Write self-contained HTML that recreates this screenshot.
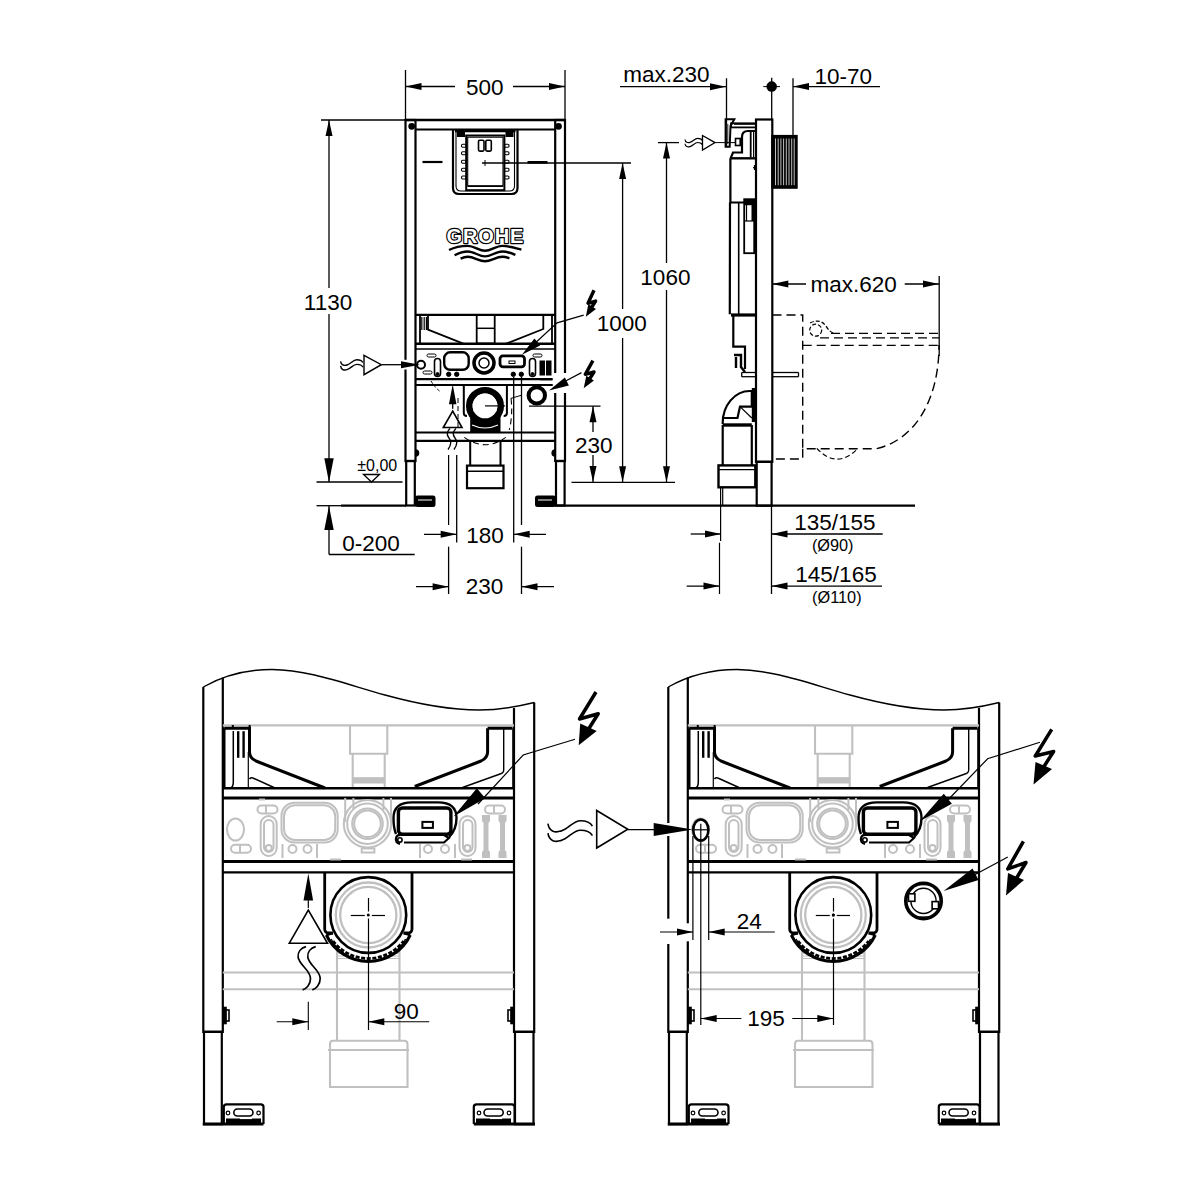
<!DOCTYPE html>
<html><head><meta charset="utf-8"><style>
html,body{margin:0;padding:0;background:#fff;width:1200px;height:1200px;overflow:hidden}
svg{display:block}
text{font-family:"Liberation Sans",sans-serif;fill:#000}
</style></head><body>
<svg width="1200" height="1200" viewBox="0 0 1200 1200">
<rect width="1200" height="1200" fill="#fff"/>
<line x1="405.5" y1="70" x2="405.5" y2="120" stroke="#000" stroke-width="1.3" />
<line x1="565" y1="70" x2="565" y2="120" stroke="#000" stroke-width="1.3" />
<line x1="405.5" y1="86.5" x2="455" y2="86.5" stroke="#000" stroke-width="1.3" />
<line x1="513" y1="86.5" x2="565" y2="86.5" stroke="#000" stroke-width="1.3" />
<polygon points="405.50,86.50 421.50,83.00 421.50,90.00" fill="#000"/>
<polygon points="565.00,86.50 549.00,90.00 549.00,83.00" fill="#000"/>
<text x="484.70" y="95.00" font-size="22.5" text-anchor="middle" >500</text>
<line x1="321" y1="120" x2="405" y2="120" stroke="#000" stroke-width="1.3" />
<line x1="329" y1="120" x2="329" y2="288" stroke="#000" stroke-width="1.3" />
<line x1="329" y1="314" x2="329" y2="482" stroke="#000" stroke-width="1.3" />
<polygon points="329.00,120.00 332.50,136.00 325.50,136.00" fill="#000"/>
<polygon points="329.00,482.30 324.30,458.30 333.70,458.30" fill="#000"/>
<text x="328.00" y="309.70" font-size="22.5" text-anchor="middle" >1130</text>
<line x1="316.5" y1="482" x2="402.5" y2="482" stroke="#000" stroke-width="1.3" />
<path d="M363.5,474.5 L379.5,474.5 L371.5,482 Z" stroke="#000" stroke-width="1.3" fill="none" />
<text x="377.25" y="470.75" font-size="16" text-anchor="middle" >±0,00</text>
<line x1="316.5" y1="505.7" x2="341" y2="505.7" stroke="#000" stroke-width="1.3" />
<line x1="341" y1="505.7" x2="406" y2="505.7" stroke="#000" stroke-width="2.3" />
<line x1="555" y1="505.7" x2="915" y2="505.7" stroke="#000" stroke-width="2.3" />
<line x1="329" y1="505.7" x2="329" y2="554.5" stroke="#000" stroke-width="1.3" />
<line x1="329" y1="554.5" x2="414.7" y2="554.5" stroke="#000" stroke-width="1.3" />
<polygon points="329.00,505.90 333.70,529.90 324.30,529.90" fill="#000"/>
<text x="371.00" y="550.70" font-size="22.5" text-anchor="middle" >0-200</text>
<rect x="405.5" y="120" width="10" height="341" rx="0" stroke="#000" stroke-width="2.2" fill="none" />
<rect x="555.2" y="120" width="9.8" height="341" rx="0" stroke="#000" stroke-width="2.2" fill="none" />
<rect x="406.2" y="461" width="8.6" height="44.5" rx="0" stroke="#000" stroke-width="2.2" fill="none" />
<rect x="556" y="461" width="8.6" height="44.5" rx="0" stroke="#000" stroke-width="2.2" fill="none" />
<rect x="416" y="496.5" width="18.5" height="9.5" rx="1.5" stroke="#000" stroke-width="2" fill="#000" />
<rect x="536" y="496.5" width="19" height="9.5" rx="1.5" stroke="#000" stroke-width="2" fill="#000" />
<line x1="418" y1="500" x2="432" y2="500" stroke="#fff" stroke-width="1" />
<line x1="538" y1="500" x2="552" y2="500" stroke="#fff" stroke-width="1" />
<path d="M415.5,450 q3,0 3,3 q0,3 -3,3" stroke="#000" stroke-width="1.6" fill="#000" />
<path d="M555.2,450 q-3,0 -3,3 q0,3 3,3" stroke="#000" stroke-width="1.6" fill="#000" />
<line x1="405.5" y1="120" x2="565" y2="120" stroke="#000" stroke-width="2.6" />
<line x1="415.5" y1="129.5" x2="555.2" y2="129.5" stroke="#000" stroke-width="2.2" />
<circle cx="411.7" cy="126.3" r="2.6" stroke="#000" stroke-width="1.6" fill="#000" />
<circle cx="558.5" cy="126.3" r="2.6" stroke="#000" stroke-width="1.6" fill="#000" />
<line x1="415.5" y1="314.8" x2="555.2" y2="314.8" stroke="#000" stroke-width="2.2" />
<path d="M453,129.5 L453,188 Q453,194 459,194 L511.5,194 Q517.5,194 517.5,188 L517.5,129.5" stroke="#000" stroke-width="2.2" fill="none" />
<path d="M456,131 L456,186 Q456,191 461,191 L509.5,191 Q514.5,191 514.5,186 L514.5,131" stroke="#000" stroke-width="1.1" fill="none" />
<rect x="466.2" y="135.5" width="38.2" height="54.7" rx="0" stroke="#000" stroke-width="2" fill="none" />
<rect x="467.7" y="137.2" width="35.3" height="48.5" rx="0" stroke="#000" stroke-width="1.1" fill="none" />
<line x1="455" y1="131" x2="515.5" y2="131" stroke="#000" stroke-width="2.4" />
<rect x="457" y="132" width="8" height="5" rx="0" stroke="#000" stroke-width="0" fill="#000" />
<rect x="505.5" y="132" width="8" height="5" rx="0" stroke="#000" stroke-width="0" fill="#000" />
<line x1="467.5" y1="186.5" x2="503" y2="186.5" stroke="#000" stroke-width="1.1" />
<rect x="461.5" y="144.3" width="4.5" height="3" rx="1.2" stroke="#000" stroke-width="1.1" fill="none" />
<rect x="504.5" y="144.3" width="4.5" height="3" rx="1.2" stroke="#000" stroke-width="1.1" fill="none" />
<rect x="461.5" y="151.8" width="4.5" height="3" rx="1.2" stroke="#000" stroke-width="1.1" fill="none" />
<rect x="504.5" y="151.8" width="4.5" height="3" rx="1.2" stroke="#000" stroke-width="1.1" fill="none" />
<rect x="461.5" y="160.2" width="4.5" height="3" rx="1.2" stroke="#000" stroke-width="1.1" fill="none" />
<rect x="504.5" y="160.2" width="4.5" height="3" rx="1.2" stroke="#000" stroke-width="1.1" fill="none" />
<rect x="461.5" y="168.2" width="4.5" height="3" rx="1.2" stroke="#000" stroke-width="1.1" fill="none" />
<rect x="504.5" y="168.2" width="4.5" height="3" rx="1.2" stroke="#000" stroke-width="1.1" fill="none" />
<rect x="461.5" y="176.0" width="4.5" height="3" rx="1.2" stroke="#000" stroke-width="1.1" fill="none" />
<rect x="504.5" y="176.0" width="4.5" height="3" rx="1.2" stroke="#000" stroke-width="1.1" fill="none" />
<rect x="478.5" y="140.3" width="5.5" height="10.8" rx="1.3" stroke="#000" stroke-width="1.6" fill="none" />
<rect x="485.8" y="140.3" width="5.5" height="10.8" rx="1.3" stroke="#000" stroke-width="1.6" fill="none" />
<line x1="422.5" y1="162" x2="442.5" y2="162" stroke="#000" stroke-width="2.2" />
<line x1="527.5" y1="162.3" x2="547.5" y2="162.3" stroke="#000" stroke-width="2.6" />
<line x1="485" y1="160" x2="485" y2="166" stroke="#000" stroke-width="1" />
<line x1="482" y1="163" x2="631" y2="163" stroke="#000" stroke-width="1.3" />
<text x="446.5" y="243.2" font-size="20" style="font-weight:bold;fill:#000;stroke:#000;stroke-width:2.4px;letter-spacing:0.9px;stroke-linejoin:round">GROHE</text>
<text x="446.5" y="243.2" font-size="20" style="font-weight:bold;fill:#fff;letter-spacing:0.9px">GROHE</text>
<path d="M449,250 C455,247 461,245.9 467.8,245.9 C474,245.9 479,250.8 485,250.8 C491,250.8 496,245.9 502.3,245.9 C509,245.9 515,248 521.4,249.6" stroke="#000" stroke-width="2.4" fill="none" />
<path d="M454.6,255.3 C459,253 463,251.5 467.8,251.5 C474,251.5 479,256.4 485,256.4 C491,256.4 496,251.5 502.3,251.5 C507,251.5 511,253 515.4,254.9" stroke="#000" stroke-width="2.4" fill="none" />
<path d="M460.6,258.6 C463,257.5 465,256.8 467.8,256.8 C474,256.8 479,261.3 485,261.3 C491,261.3 496,256.8 502.3,256.8 C505,256.8 507,257.5 509.4,258.3" stroke="#000" stroke-width="2.4" fill="none" />
<path d="M420,315 L420,343.7 M428,315 L428,329.7 L463.3,343.7" stroke="#000" stroke-width="1.8" fill="none" />
<line x1="421.8" y1="317" x2="421.8" y2="330" stroke="#000" stroke-width="1.2" />
<line x1="424.2" y1="317" x2="424.2" y2="330" stroke="#000" stroke-width="1.2" />
<line x1="426.4" y1="317" x2="426.4" y2="330" stroke="#000" stroke-width="1.2" />
<path d="M552,315 L552,343.7 M543.3,315 L543.3,329 L506,343.7" stroke="#000" stroke-width="1.8" fill="none" />
<rect x="476.7" y="315" width="18" height="28.5" rx="0" stroke="#000" stroke-width="1.8" fill="none" />
<line x1="476.7" y1="328.3" x2="494.7" y2="328.3" stroke="#000" stroke-width="1.5" />
<line x1="415.5" y1="343.7" x2="555.2" y2="343.7" stroke="#000" stroke-width="2.4" />
<line x1="415.5" y1="349" x2="555.2" y2="349" stroke="#000" stroke-width="1.6" />
<line x1="415.5" y1="379.2" x2="555.2" y2="379.2" stroke="#000" stroke-width="2.2" />
<line x1="415.5" y1="385" x2="555.2" y2="385" stroke="#000" stroke-width="2.0" />
<circle cx="484" cy="363" r="10" stroke="#000" stroke-width="3.5" fill="none" />
<circle cx="484" cy="363" r="5" stroke="#000" stroke-width="1.5" fill="none" />
<rect x="444.2" y="352.3" width="24.5" height="17.5" rx="6" stroke="#000" stroke-width="2.4" fill="none" />
<rect x="434.5" y="358.5" width="6" height="18" rx="3" stroke="#000" stroke-width="1.6" fill="none" />
<circle cx="437.5" cy="374" r="1.5" stroke="#000" stroke-width="1" fill="#000" />
<rect x="529.5" y="358.5" width="6" height="18" rx="3" stroke="#000" stroke-width="1.6" fill="none" />
<circle cx="532.5" cy="374" r="1.5" stroke="#000" stroke-width="1" fill="#000" />
<rect x="500" y="355.8" width="24.5" height="11" rx="3" stroke="#000" stroke-width="2.8" fill="none" />
<rect x="509" y="361" width="6" height="2.5" rx="0" stroke="#000" stroke-width="1" fill="none" />
<circle cx="448.7" cy="374.3" r="2.2" stroke="#000" stroke-width="1" fill="#000" />
<circle cx="456.7" cy="374.3" r="2.2" stroke="#000" stroke-width="1" fill="#000" />
<circle cx="513.3" cy="374.3" r="2.2" stroke="#000" stroke-width="1" fill="#000" />
<circle cx="521.3" cy="374.3" r="2.2" stroke="#000" stroke-width="1" fill="#000" />
<rect x="540" y="361" width="4.5" height="14" rx="0" stroke="#000" stroke-width="1" fill="#000" />
<rect x="546.5" y="361" width="4.5" height="14" rx="0" stroke="#000" stroke-width="1" fill="#000" />
<rect x="427" y="354" width="9" height="3" rx="1.5" stroke="#000" stroke-width="1" fill="none" />
<rect x="533" y="354" width="9" height="3" rx="1.5" stroke="#000" stroke-width="1" fill="none" />
<rect x="423" y="371" width="9" height="3" rx="1.5" stroke="#000" stroke-width="1" fill="none" />
<path d="M340.6,361.3 C341.0,365.0 344.0,366.0 347.0,365.0 C351.0,364.0 353.0,359.8 356.8,359.8 C359.8,359.8 362.0,361.0 362.8,362.5 M340.6,365.9 C341.0,369.6 344.0,370.6 347.0,369.6 C351.0,368.6 353.0,364.4 356.8,364.4 C359.8,364.4 362.0,365.6 362.8,367.1" stroke="#000" stroke-width="1.4" fill="none" />
<rect x="403" y="359.8" width="5" height="9.7" fill="#fff"/>
<path d="M364,355.3 L381.3,364.7 L364,374.7 Z" stroke="#000" stroke-width="1.4" fill="none" />
<line x1="381.3" y1="364.7" x2="404" y2="364.7" stroke="#000" stroke-width="1.3" />
<polygon points="420.00,364.70 401.00,368.20 401.00,361.20" fill="#000"/>
<circle cx="421" cy="364.7" r="4" stroke="#000" stroke-width="2" fill="none" />
<line x1="452.7" y1="395" x2="452.7" y2="408.8" stroke="#000" stroke-width="1.3" />
<polygon points="452.70,384.30 456.45,404.30 448.95,404.30" fill="#000"/>
<path d="M443.3,427.5 L452.7,411.2 L462,427.5 Z" stroke="#000" stroke-width="1.6" fill="none" />
<path d="M450,428.5 Q445,433 449,438 Q453,443 448,449.5 M456,428.5 Q451,433 455,438 Q459,443 454,449.5" stroke="#000" stroke-width="1.3" fill="none" />
<path d="M463.8,386 L463.8,413 Q463.8,416 467,416 M506.9,386 L506.9,413 Q506.9,416 503.7,416" stroke="#000" stroke-width="2" fill="none" />
<rect x="470.2" y="412" width="30.3" height="20" rx="0" stroke="#000" stroke-width="0" fill="#000" />
<circle cx="485" cy="405.9" r="15.7" stroke="#000" stroke-width="6.6" fill="none" />
<circle cx="485" cy="405.9" r="12.4" fill="#fff"/>
<path d="M472,425 Q485,431 498,425" stroke="#fff" stroke-width="1.2" fill="none" />
<line x1="485" y1="405.9" x2="505" y2="405.9" stroke="#000" stroke-width="1.2" />
<line x1="415.5" y1="432.5" x2="555.2" y2="432.5" stroke="#000" stroke-width="2.2" />
<line x1="415.5" y1="440.8" x2="555.2" y2="440.8" stroke="#000" stroke-width="2.2" />
<path d="M470.2,440.8 L470.2,465.6 M500.5,440.8 L500.5,465.6" stroke="#000" stroke-width="2" fill="none" />
<rect x="467" y="465.6" width="36.5" height="22.6" rx="0" stroke="#000" stroke-width="2.2" fill="none" />
<line x1="467" y1="471.3" x2="503.5" y2="471.3" stroke="#000" stroke-width="1.4" />
<path d="M431,381 Q436,389 441,392" stroke="#000" stroke-width="1" fill="none" stroke-dasharray="3,2"/>
<path d="M458,398 L458,428" stroke="#000" stroke-width="1" fill="none" stroke-dasharray="5,3"/>
<path d="M464.3,437.4 Q485,452 505.8,437.4" stroke="#000" stroke-width="1.1" fill="none" stroke-dasharray="6,4"/>
<path d="M511,398.3 Q513,415 509.3,429.8" stroke="#000" stroke-width="1.1" fill="none" stroke-dasharray="6,4"/>
<path d="M511,398.3 L521,395.4" stroke="#000" stroke-width="1" fill="none" />
<circle cx="536.8" cy="395.4" r="8.2" stroke="#000" stroke-width="4" fill="none" />
<path d="M594,290.3 L588,303.3 L595.6,301.1 L590.7,308.95000000000005" stroke="#000" stroke-width="3.4" fill="none" stroke-linejoin="round"/>
<polygon points="585.80,316.80 588.34,304.24 595.97,309.00" fill="#000"/>
<path d="M583.7,315.2 L557.1,322.8 L532,346" stroke="#000" stroke-width="1.2" fill="none" />
<polygon points="521.90,354.80 534.43,338.58 540.17,345.51" fill="#000"/>
<rect x="552.5" y="373" width="14.5" height="20" fill="#fff"/>
<line x1="540" y1="379.2" x2="552.5" y2="379.2" stroke="#000" stroke-width="2.2" />
<line x1="540" y1="385" x2="552.5" y2="385" stroke="#000" stroke-width="2.0" />
<path d="M592.9,360.7 L585.3,374.3 L594,372 L588.85,380.15" stroke="#000" stroke-width="3.4" fill="none" stroke-linejoin="round"/>
<polygon points="583.70,388.30 586.31,375.75 593.91,380.56" fill="#000"/>
<line x1="581.5" y1="372.6" x2="560" y2="384" stroke="#000" stroke-width="1.2" />
<polygon points="549.00,390.50 564.88,377.53 568.90,385.58" fill="#000"/>
<line x1="529" y1="406.2" x2="600.5" y2="406.2" stroke="#000" stroke-width="1.3" />
<line x1="593" y1="406.2" x2="593" y2="432" stroke="#000" stroke-width="1.3" />
<line x1="593" y1="455" x2="593" y2="482" stroke="#000" stroke-width="1.3" />
<polygon points="593.00,406.20 596.50,422.20 589.50,422.20" fill="#000"/>
<polygon points="593.00,482.00 589.50,466.00 596.50,466.00" fill="#000"/>
<text x="593.75" y="452.50" font-size="22.5" text-anchor="middle" >230</text>
<line x1="571.5" y1="482.3" x2="675" y2="482.3" stroke="#000" stroke-width="1.3" />
<line x1="622.6" y1="163" x2="622.6" y2="309" stroke="#000" stroke-width="1.3" />
<line x1="622.6" y1="338" x2="622.6" y2="482.3" stroke="#000" stroke-width="1.3" />
<polygon points="622.60,163.00 626.10,179.00 619.10,179.00" fill="#000"/>
<polygon points="622.60,482.30 619.10,466.30 626.10,466.30" fill="#000"/>
<text x="621.70" y="331.00" font-size="22.5" text-anchor="middle" >1000</text>
<line x1="448.6" y1="455" x2="448.6" y2="525" stroke="#000" stroke-width="1.2" />
<line x1="448.6" y1="546.7" x2="448.6" y2="594" stroke="#000" stroke-width="1.3" />
<line x1="456.7" y1="455" x2="456.7" y2="542.5" stroke="#000" stroke-width="1.3" />
<line x1="513.7" y1="377" x2="513.7" y2="542.5" stroke="#000" stroke-width="1.3" />
<line x1="521.5" y1="377" x2="521.5" y2="525" stroke="#000" stroke-width="1.3" />
<line x1="521.5" y1="546.7" x2="521.5" y2="594" stroke="#000" stroke-width="1.3" />
<line x1="424" y1="534.3" x2="456.7" y2="534.3" stroke="#000" stroke-width="1.3" />
<polygon points="456.70,534.30 440.70,537.80 440.70,530.80" fill="#000"/>
<line x1="513.7" y1="534.3" x2="546" y2="534.3" stroke="#000" stroke-width="1.3" />
<polygon points="513.70,534.30 529.70,530.80 529.70,537.80" fill="#000"/>
<text x="485.00" y="542.50" font-size="22.5" text-anchor="middle" >180</text>
<line x1="416" y1="586.7" x2="448.6" y2="586.7" stroke="#000" stroke-width="1.3" />
<polygon points="448.60,586.70 432.60,590.20 432.60,583.20" fill="#000"/>
<line x1="521.5" y1="586.7" x2="554" y2="586.7" stroke="#000" stroke-width="1.3" />
<polygon points="521.50,586.70 537.50,583.20 537.50,590.20" fill="#000"/>
<text x="484.60" y="594.00" font-size="22.5" text-anchor="middle" >230</text>
<text x="666.35" y="82.30" font-size="22.5" text-anchor="middle" >max.230</text>
<line x1="620" y1="86.7" x2="726" y2="86.7" stroke="#000" stroke-width="1.3" />
<polygon points="726.00,86.70 710.00,90.20 710.00,83.20" fill="#000"/>
<line x1="726.5" y1="78.3" x2="726.5" y2="146" stroke="#000" stroke-width="1.3" />
<circle cx="771.7" cy="86.6" r="5" stroke="#000" stroke-width="0.5" fill="#000" />
<line x1="763.3" y1="86.6" x2="780" y2="86.6" stroke="#000" stroke-width="1" />
<line x1="771.7" y1="77.7" x2="771.7" y2="120" stroke="#000" stroke-width="1.3" />
<line x1="793" y1="78.3" x2="793" y2="136" stroke="#000" stroke-width="1.3" />
<line x1="793" y1="86.6" x2="880" y2="86.6" stroke="#000" stroke-width="1.3" />
<polygon points="793.00,86.60 809.00,83.10 809.00,90.10" fill="#000"/>
<text x="843.35" y="83.70" font-size="22.5" text-anchor="middle" >10-70</text>
<rect x="756" y="119.5" width="16.3" height="342.3" rx="0" stroke="#000" stroke-width="2.2" fill="none" />
<rect x="756.7" y="461.8" width="14.9" height="43.9" rx="0" stroke="#000" stroke-width="2.2" fill="none" />
<line x1="771.5" y1="505" x2="771.5" y2="594" stroke="#000" stroke-width="1.3" />
<rect x="772.3" y="136" width="24.3" height="51.7" rx="0" stroke="#000" stroke-width="2.2" fill="#000" />
<line x1="775.5" y1="138.5" x2="775.5" y2="185.2" stroke="#fff" stroke-width="0.75" />
<line x1="778.2" y1="138.5" x2="778.2" y2="185.2" stroke="#fff" stroke-width="0.75" />
<line x1="780.9" y1="138.5" x2="780.9" y2="185.2" stroke="#fff" stroke-width="0.75" />
<line x1="783.6" y1="138.5" x2="783.6" y2="185.2" stroke="#fff" stroke-width="0.75" />
<line x1="786.3" y1="138.5" x2="786.3" y2="185.2" stroke="#fff" stroke-width="0.75" />
<line x1="789" y1="138.5" x2="789" y2="185.2" stroke="#fff" stroke-width="0.75" />
<line x1="791.7" y1="138.5" x2="791.7" y2="185.2" stroke="#fff" stroke-width="0.75" />
<line x1="794.2" y1="138.5" x2="794.2" y2="185.2" stroke="#fff" stroke-width="0.75" />
<path d="M725.6,119.3 L734.3,119.3 L730.5,126 L729.7,146.7 L725.6,146.7 Z" stroke="#000" stroke-width="2" fill="none" />
<line x1="727.6" y1="124" x2="727.6" y2="144" stroke="#555" stroke-width="1.6" />
<rect x="731" y="123.3" width="25" height="4.1" rx="0" stroke="#000" stroke-width="1.8" fill="none" />
<line x1="734" y1="124.2" x2="755" y2="124.2" stroke="#000" stroke-width="1.2" />
<path d="M730.6,158.3 L733,152.5 L742,152.5 L742,137 Q742,131 748,131 L756,131" stroke="#000" stroke-width="2.2" fill="none" />
<line x1="750.7" y1="131.5" x2="750.7" y2="157" stroke="#000" stroke-width="1.8" />
<line x1="753.6" y1="131.5" x2="753.6" y2="157" stroke="#000" stroke-width="1.2" />
<rect x="735.5" y="138.5" width="4.7" height="7" rx="0" stroke="#000" stroke-width="1.6" fill="none" />
<line x1="726" y1="142.6" x2="735.5" y2="142.6" stroke="#000" stroke-width="1" />
<line x1="730.3" y1="158.3" x2="756" y2="158.3" stroke="#000" stroke-width="2.4" />
<line x1="753" y1="167.7" x2="756" y2="167.7" stroke="#000" stroke-width="1.2" />
<line x1="754.5" y1="165" x2="754.5" y2="170" stroke="#000" stroke-width="1.2" />
<path d="M685.0,139.5 C685.3,142.4 687.7,143.2 690.0,142.4 C693.1,141.6 694.7,138.3 697.6,138.3 C700.0,138.3 701.7,139.3 702.3,140.4 M685.0,143.7 C685.3,146.6 687.7,147.4 690.0,146.6 C693.1,145.8 694.7,142.5 697.6,142.5 C700.0,142.5 701.7,143.5 702.3,144.6" stroke="#000" stroke-width="1.2" fill="none" />
<path d="M702.5,135.5 L715,142.6 L702.5,150 Z" stroke="#000" stroke-width="1.3" fill="none" />
<line x1="715" y1="142.6" x2="726" y2="142.6" stroke="#000" stroke-width="1" />
<line x1="658" y1="142.6" x2="679" y2="142.6" stroke="#000" stroke-width="1.3" />
<line x1="666.5" y1="142.6" x2="666.5" y2="263" stroke="#000" stroke-width="1.3" />
<line x1="666.5" y1="290" x2="666.5" y2="482.3" stroke="#000" stroke-width="1.3" />
<polygon points="666.50,142.60 670.00,158.60 663.00,158.60" fill="#000"/>
<polygon points="666.50,482.30 663.00,466.30 670.00,466.30" fill="#000"/>
<text x="665.40" y="285.00" font-size="22.5" text-anchor="middle" >1060</text>
<path d="M730.4,158.3 L730.4,202.5 M730,202.5 L729.8,314.2" stroke="#000" stroke-width="2.2" fill="none" />
<line x1="730" y1="202.5" x2="745" y2="202.5" stroke="#000" stroke-width="2" />
<line x1="738.7" y1="202.5" x2="738.7" y2="314.2" stroke="#000" stroke-width="1.6" />
<rect x="744.2" y="199.2" width="10" height="54" rx="0" stroke="#000" stroke-width="1.8" fill="none" />
<rect x="744.2" y="199.2" width="10" height="6" rx="0" stroke="#000" stroke-width="0" fill="#000" />
<rect x="751.5" y="205" width="2.7" height="16" rx="0" stroke="#000" stroke-width="0" fill="#000" />
<line x1="746.5" y1="205" x2="746.5" y2="221" stroke="#000" stroke-width="1.2" />
<line x1="744.2" y1="221" x2="754.2" y2="221" stroke="#000" stroke-width="1.2" />
<line x1="731" y1="315" x2="756" y2="315" stroke="#000" stroke-width="3.2" />
<path d="M733.3,315 L733.3,346.7 L745,346.7 L745,369" stroke="#000" stroke-width="2.2" fill="none" />
<path d="M734,355 L741,355 L741,367 L745,372 M736,357 L736,368" stroke="#000" stroke-width="2.4" fill="none" />
<line x1="741.7" y1="372.5" x2="756" y2="372.5" stroke="#000" stroke-width="1.3" />
<line x1="741.7" y1="376.7" x2="756" y2="376.7" stroke="#000" stroke-width="1.3" />
<line x1="741.7" y1="372.5" x2="741.7" y2="376.7" stroke="#000" stroke-width="1.3" />
<line x1="772" y1="372.5" x2="798.5" y2="372.5" stroke="#000" stroke-width="1.3" />
<line x1="772" y1="376.7" x2="798.5" y2="376.7" stroke="#000" stroke-width="1.3" />
<line x1="798.5" y1="372.5" x2="798.5" y2="376.7" stroke="#000" stroke-width="1.3" />
<path d="M722.7,424 L722.7,423 A27,32 0 0 1 749.7,391 L751.8,391 L751.8,406.6 L740,406.6 L737.5,418 L722.7,418" stroke="#000" stroke-width="2.2" fill="none" />
<line x1="740" y1="406.6" x2="751.8" y2="418" stroke="#000" stroke-width="1.2" />
<rect x="751.8" y="388" width="3.5" height="34" rx="0" stroke="#000" stroke-width="0" fill="#000" />
<line x1="722.7" y1="425" x2="751.8" y2="425" stroke="#000" stroke-width="3.4" />
<line x1="722.7" y1="425" x2="722.7" y2="465.4" stroke="#000" stroke-width="2.2" />
<line x1="751.8" y1="425" x2="751.8" y2="465.4" stroke="#000" stroke-width="2.2" />
<rect x="718.5" y="465.4" width="36.8" height="21.9" rx="0" stroke="#000" stroke-width="2.4" fill="none" />
<line x1="718.5" y1="469.6" x2="755.3" y2="469.6" stroke="#000" stroke-width="1.4" />
<line x1="720.6" y1="487.3" x2="720.6" y2="541" stroke="#000" stroke-width="1.2" />
<line x1="722.7" y1="487.3" x2="722.7" y2="505" stroke="#000" stroke-width="1.2" />
<line x1="719.5" y1="542.7" x2="719.5" y2="594" stroke="#000" stroke-width="1.2" />
<line x1="690.7" y1="534" x2="721" y2="534" stroke="#000" stroke-width="1.3" />
<polygon points="721.00,534.00 705.00,537.50 705.00,530.50" fill="#000"/>
<line x1="771.5" y1="534" x2="882.7" y2="534" stroke="#000" stroke-width="1.3" />
<polygon points="771.50,534.00 787.50,530.50 787.50,537.50" fill="#000"/>
<text x="834.80" y="530.40" font-size="22.5" text-anchor="middle" >135/155</text>
<text x="832.70" y="550.80" font-size="16.3" text-anchor="middle" >(Ø90)</text>
<line x1="686.7" y1="586.1" x2="719.5" y2="586.1" stroke="#000" stroke-width="1.3" />
<polygon points="719.50,586.10 703.50,589.60 703.50,582.60" fill="#000"/>
<line x1="771.5" y1="586.1" x2="882" y2="586.1" stroke="#000" stroke-width="1.3" />
<polygon points="771.50,586.10 787.50,582.60 787.50,589.60" fill="#000"/>
<text x="836.00" y="582.10" font-size="22.5" text-anchor="middle" >145/165</text>
<text x="836.85" y="603.00" font-size="16.3" text-anchor="middle" >(Ø110)</text>
<line x1="772.3" y1="284" x2="806" y2="284" stroke="#000" stroke-width="1.3" />
<polygon points="772.30,284.00 788.30,280.50 788.30,287.50" fill="#000"/>
<line x1="904.7" y1="284" x2="939" y2="284" stroke="#000" stroke-width="1.3" />
<polygon points="939.00,284.00 923.00,287.50 923.00,280.50" fill="#000"/>
<line x1="939.2" y1="276" x2="939.2" y2="356" stroke="#000" stroke-width="1.3" />
<text x="853.60" y="292.30" font-size="22.5" text-anchor="middle" >max.620</text>
<path d="M772.5,315 L802.7,315 L802.7,448.8 L876,448.8 C915,440 939,400 939,345 M802.7,448.8 L802.7,459 L772.5,459" stroke="#000" stroke-width="1.4" fill="none" stroke-dasharray="9,5"/>
<path d="M831,333.4 L939,333.4 M820,337.8 L939,337.8 M802.7,345.3 L939,345.3" stroke="#000" stroke-width="1.3" fill="none" stroke-dasharray="9,5"/>
<path d="M816.8,448.3 Q837,470 858,448.3" stroke="#000" stroke-width="1.2" fill="none" stroke-dasharray="5,3"/>
<circle cx="815.7" cy="330.2" r="6" stroke="#000" stroke-width="1.2" fill="none" stroke-dasharray="4,2"/>
<path d="M810,323 Q820,318 826,326 Q830,333 835,333.4" stroke="#000" stroke-width="1.2" fill="none" stroke-dasharray="4,2"/>
<g id="det">
<path d="M203.3,687 C228,673 250,669.5 272,669.5 C310,670 345,684 385,695 C425,706 455,710 479,710 C500,710 520,706 534.3,702.5" stroke="#000" stroke-width="1.4" fill="none" />
<path d="M203.3,687 L203.3,1031.8 L222.8,1031.8 L222.8,677.5" stroke="#000" stroke-width="2.2" fill="none" />
<path d="M534.2,702.5 L534.2,1031.8 L514,1031.8 L514,708" stroke="#000" stroke-width="2.2" fill="none" />
<rect x="204" y="1031.8" width="17.8" height="92.4" rx="0" stroke="#000" stroke-width="2.2" fill="none" />
<rect x="515" y="1031.8" width="18.5" height="92.4" rx="0" stroke="#000" stroke-width="2.2" fill="none" />
<rect x="223" y="1007.5" width="3" height="16" rx="0" stroke="#000" stroke-width="1.6" fill="#000" />
<rect x="225.5" y="1010" width="3.5" height="11" rx="0" stroke="#000" stroke-width="1.6" fill="none" />
<rect x="511" y="1007.5" width="3" height="16" rx="0" stroke="#000" stroke-width="1.6" fill="#000" />
<rect x="508" y="1010" width="3.5" height="11" rx="0" stroke="#000" stroke-width="1.6" fill="none" />
<path d="M223.8,1124 L223.8,1107 Q223.8,1104.4 226.5,1104.4 L260.8,1104.4 Q263.5,1104.4 263.5,1107 L263.5,1124" stroke="#000" stroke-width="2.2" fill="none" />
<rect x="233.8" y="1109" width="19.2" height="7" rx="3.5" stroke="#000" stroke-width="1.6" fill="none" />
<circle cx="228" cy="1113" r="1.8" stroke="#000" stroke-width="1.2" fill="none" />
<circle cx="258.6" cy="1113" r="1.8" stroke="#000" stroke-width="1.2" fill="none" />
<line x1="202.8" y1="1124" x2="263.5" y2="1124" stroke="#000" stroke-width="2.8" />
<rect x="226" y="1118.5" width="35" height="4.5" rx="0" stroke="#000" stroke-width="0" fill="#000" />
<line x1="240" y1="1118.5" x2="252" y2="1118.5" stroke="#fff" stroke-width="1.2" />
<path d="M473.8,1124 L473.8,1107 Q473.8,1104.4 476.5,1104.4 L511.9,1104.4 Q514.6,1104.4 514.6,1107 L514.6,1124" stroke="#000" stroke-width="2.2" fill="none" />
<rect x="484" y="1109" width="19.2" height="7" rx="3.5" stroke="#000" stroke-width="1.6" fill="none" />
<circle cx="479" cy="1113" r="1.8" stroke="#000" stroke-width="1.2" fill="none" />
<circle cx="509" cy="1113" r="1.8" stroke="#000" stroke-width="1.2" fill="none" />
<line x1="473.8" y1="1124" x2="535" y2="1124" stroke="#000" stroke-width="2.8" />
<rect x="476" y="1118.5" width="35" height="4.5" rx="0" stroke="#000" stroke-width="0" fill="#000" />
<line x1="490" y1="1118.5" x2="502" y2="1118.5" stroke="#fff" stroke-width="1.2" />
<line x1="222.8" y1="725.4" x2="514" y2="725.4" stroke="#c0c0c0" stroke-width="2.3" />
<path d="M350,725.4 L350,753.7 L387.3,753.7 L387.3,725.4 M352.7,753.7 L352.7,788 M384.7,753.7 L384.7,788" stroke="#c0c0c0" stroke-width="2.1" fill="none" />
<rect x="352.7" y="777.7" width="32" height="5.3" rx="0" stroke="#c0c0c0" stroke-width="1" fill="#c0c0c0" />
<path d="M224.2,728.3 L249.5,728.3 L249.5,752 Q249.5,758 256,761 L325,788" stroke="#000" stroke-width="3" fill="none" />
<path d="M233.3,731 L233.3,782 Q233.3,788 229.5,788.3" stroke="#000" stroke-width="1.5" fill="none" />
<path d="M224.2,728.3 L224.2,788" stroke="#000" stroke-width="2.6" fill="none" />
<path d="M249.5,779 Q251,777 254,778.5 L275,788" stroke="#000" stroke-width="1.5" fill="none" />
<line x1="238.2" y1="731.2" x2="238.2" y2="757.8" stroke="#000" stroke-width="2.4" />
<line x1="243.6" y1="731.2" x2="243.6" y2="757.8" stroke="#000" stroke-width="2.4" />
<line x1="248.3" y1="752" x2="248.3" y2="788" stroke="#000" stroke-width="1.2" />
<line x1="232.8" y1="725" x2="232.8" y2="729" stroke="#000" stroke-width="2" />
<line x1="249.6" y1="725" x2="249.6" y2="729" stroke="#000" stroke-width="2" />
<path d="M487.6,728.3 L512.5,728.3 M487.6,728.3 L487.6,752 Q487.6,758 481,761 L414.7,786.5" stroke="#000" stroke-width="3" fill="none" />
<path d="M503.7,728.7 L503.7,770 Q503.7,773 500,774 L462.5,787.5" stroke="#000" stroke-width="1.4" fill="none" />
<path d="M513.5,728.3 L513.5,788" stroke="#000" stroke-width="2.6" fill="none" />
<line x1="222.8" y1="788.3" x2="514" y2="788.3" stroke="#000" stroke-width="2.4" />
<line x1="222.8" y1="798" x2="514" y2="798" stroke="#000" stroke-width="3.2" />
<line x1="222.8" y1="861.5" x2="514" y2="861.5" stroke="#000" stroke-width="3.2" />
<line x1="222.8" y1="872.4" x2="514" y2="872.4" stroke="#000" stroke-width="2.4" />
<g stroke="#c0c0c0" fill="none" stroke-width="2">
<ellipse cx="235.5" cy="829.5" rx="8.5" ry="11"/>
<rect x="257.5" y="805.5" width="20" height="8" rx="4"/><line x1="266" y1="805.5" x2="266" y2="813.5"/>
<rect x="231" y="844.7" width="20" height="8" rx="4"/><line x1="240" y1="844.7" x2="240" y2="852.7"/>
<rect x="260.7" y="816" width="16" height="40" rx="8"/><rect x="264" y="820" width="9.5" height="32" rx="4.7"/><circle cx="268.7" cy="848" r="3"/>
<rect x="281.5" y="802.7" width="56.2" height="39.8" rx="13"/><rect x="284" y="805.2" width="51.2" height="34.8" rx="11"/>
<circle cx="292.5" cy="849" r="4"/><circle cx="307.5" cy="849" r="4"/><line x1="282.5" y1="844" x2="282.5" y2="858"/><line x1="317" y1="844" x2="317" y2="858"/>
<circle cx="367.5" cy="823.7" r="23.7"/><circle cx="367.5" cy="823.7" r="20.3"/><circle cx="367.5" cy="823.7" r="15.3"/><circle cx="367.5" cy="823.7" r="13.3"/>
<path d="M345.2,798 L345.2,822 M391,798 L391,822 M353.4,798 L353.4,810 M383.4,798 L383.4,810"/><rect x="361.7" y="848.5" width="12.7" height="4"/>
<circle cx="428" cy="849" r="4"/><circle cx="445" cy="849" r="4"/><line x1="420" y1="844" x2="420" y2="858"/><line x1="455" y1="844" x2="455" y2="858"/>
<rect x="485" y="805.5" width="20" height="8" rx="4"/><line x1="494" y1="805.5" x2="494" y2="813.5"/>
<rect x="459.5" y="816" width="16" height="40" rx="8"/><rect x="463" y="820" width="9.5" height="32" rx="4.7"/><circle cx="467.5" cy="848" r="3"/>
<line x1="259" y1="799.5" x2="265" y2="799.5"/><line x1="330" y1="859.5" x2="341" y2="859.5"/><line x1="461" y1="859.5" x2="472" y2="859.5"/>
</g>
<path d="M482,815 L490,815 L490,821 L488.5,823 L488.5,850 L490,852 L490,858 L482,858 L482,852 L483.5,850 L483.5,823 L482,821 Z" fill="#c0c0c0"/>
<path d="M498.5,815 L506.5,815 L506.5,821 L505.0,823 L505.0,850 L506.5,852 L506.5,858 L498.5,858 L498.5,852 L500.0,850 L500.0,823 L498.5,821 Z" fill="#c0c0c0"/>
<path d="M396,834 Q393.5,828 393.5,818 Q393.5,802.4 412,802.4 L438,802.4 Q456.5,802.4 456.5,818 Q456.5,830 449,837" stroke="#000" stroke-width="2.4" fill="none" />
<rect x="398.4" y="808" width="52.5" height="26.3" rx="4" stroke="#000" stroke-width="3.4" fill="none" />
<rect x="422.4" y="821.9" width="10.5" height="6" rx="0" stroke="#000" stroke-width="2" fill="none" />
<path d="M400,844 Q395,843 396,838 Q397,834 402,835 L444,835 L449,838 L444,842.5 L404,842.5" stroke="#000" stroke-width="2.2" fill="none" />
<circle cx="399.9" cy="839.9" r="2.2" stroke="#000" stroke-width="1.6" fill="none" />
<line x1="337" y1="950" x2="337" y2="1041" stroke="#c0c0c0" stroke-width="2.1" />
<line x1="399.5" y1="950" x2="399.5" y2="1041" stroke="#c0c0c0" stroke-width="2.1" />
<line x1="337" y1="951" x2="399.5" y2="951" stroke="#c0c0c0" stroke-width="1.0" />
<line x1="337" y1="953.5" x2="399.5" y2="953.5" stroke="#c0c0c0" stroke-width="1.0" />
<line x1="337" y1="956" x2="399.5" y2="956" stroke="#c0c0c0" stroke-width="1.0" />
<line x1="337" y1="958.5" x2="399.5" y2="958.5" stroke="#c0c0c0" stroke-width="1.0" />
<path d="M330,1044 L330,1087 L407.5,1087 L407.5,1044 Q407.5,1040.8 404,1040.8 L333,1040.8 Q330,1040.8 330,1044" stroke="#c0c0c0" stroke-width="2.1" fill="none" />
<line x1="328" y1="1050" x2="409" y2="1050" stroke="#c0c0c0" stroke-width="2" />
<path d="M326.3,935 A46.5,46.5 0 0 0 410.3,935 Z" fill="#fff" stroke="none"/>
<circle cx="368.3" cy="915" r="37.9" stroke="#000" stroke-width="2.6" fill="none" />
<circle cx="368.3" cy="915" r="32.5" stroke="#c0c0c0" stroke-width="2.3" fill="none" />
<circle cx="368.3" cy="915" r="28.1" stroke="#c0c0c0" stroke-width="2.3" fill="none" />
<path d="M324.7,872.4 L324.7,929 Q324.7,933 329,933 L333,933 M412,872.4 L412,929 Q412,933 407.6,933 L403.6,933" stroke="#000" stroke-width="2.8" fill="none" />
<path d="M326.3,935 A46.5,46.5 0 0 0 410.3,935" stroke="#000" stroke-width="3" fill="none" />
<path d="M331,939 A42.5,42.5 0 0 0 405.6,939" stroke="#000" stroke-width="1.4" fill="none" />
<path d="M333,941 A44.3,44.3 0 0 0 403.6,941" stroke="#000" stroke-width="2.8" fill="none" stroke-dasharray="4,1.6"/>
<line x1="326.3" y1="935" x2="333" y2="933" stroke="#000" stroke-width="2.4" />
<line x1="410.3" y1="935" x2="403.6" y2="933" stroke="#000" stroke-width="2.4" />
<circle cx="368.3" cy="915" r="1.5" stroke="#000" stroke-width="0" fill="#000" />
<line x1="222.8" y1="972.5" x2="514" y2="972.5" stroke="#c0c0c0" stroke-width="2.1" />
<line x1="222.8" y1="989.2" x2="514" y2="989.2" stroke="#c0c0c0" stroke-width="2.1" />
</g>
<use href="#det" transform="translate(465,0)"/>
<line x1="368.5" y1="898" x2="368.5" y2="911.5" stroke="#000" stroke-width="1.2" />
<line x1="368.5" y1="918.5" x2="368.5" y2="1030" stroke="#000" stroke-width="1.2" />
<line x1="350.8" y1="915.5" x2="364.8" y2="915.5" stroke="#000" stroke-width="1.2" />
<line x1="371.8" y1="915.5" x2="385" y2="915.5" stroke="#000" stroke-width="1.2" />
<line x1="308.3" y1="890" x2="308.3" y2="908" stroke="#000" stroke-width="1.2" />
<polygon points="308.30,873.40 313.10,900.40 303.50,900.40" fill="#000"/>
<path d="M289.2,943.3 L308.3,910 L327.5,943.3 Z" stroke="#000" stroke-width="1.6" fill="none" />
<path d="M306,946.6 C301,948 297.5,952 298.1,957.2 C299,965 310.5,970 310.5,978.6 C310.5,985 306,989 302.6,989.9 M315.7,946.6 C310.7,948 307.2,952 307.8,957.2 C308.7,965 320.2,970 320.2,978.6 C320.2,985 315.7,989 312.3,989.9" stroke="#000" stroke-width="1.7" fill="none" />
<line x1="308.3" y1="1001.7" x2="308.3" y2="1030" stroke="#000" stroke-width="1.1" />
<line x1="276.7" y1="1021.7" x2="308.3" y2="1021.7" stroke="#000" stroke-width="1.1" />
<polygon points="308.30,1021.70 292.30,1025.20 292.30,1018.20" fill="#000"/>
<line x1="368.3" y1="1021.7" x2="429.2" y2="1021.7" stroke="#000" stroke-width="1.1" />
<polygon points="368.30,1021.70 384.30,1018.20 384.30,1025.20" fill="#000"/>
<text x="406.25" y="1019.20" font-size="22.5" text-anchor="middle" >90</text>
<path d="M596,692 L579.5,719 L598.2,713.7 L588,730" stroke="#000" stroke-width="3.5" fill="none" stroke-linejoin="round"/>
<polygon points="578.7,745.2 580.2,723.5 596.7,731" fill="#000"/>
<path d="M575,739.2 L523.2,755 L478,804" stroke="#000" stroke-width="1.2" fill="none" />
<polygon points="453.50,816.50 476.87,788.36 485.24,798.31" fill="#000"/>
<ellipse cx="700.8" cy="830" rx="7.6" ry="10.5" stroke="#000" stroke-width="2.6" fill="#fff"/>
<path d="M548.0,823.7 C548.8,831.1 554.8,833.1 560.8,831.1 C568.8,829.1 572.8,820.7 580.4,820.7 C586.4,820.7 590.8,823.1 592.4,826.1 M548.0,833.2 C548.8,840.6 554.8,842.6 560.8,840.6 C568.8,838.6 572.8,830.2 580.4,830.2 C586.4,830.2 590.8,832.6 592.4,835.6" stroke="#000" stroke-width="1.6" fill="none" />
<rect x="665" y="823" width="6" height="13" fill="#fff"/>
<path d="M596.7,810.5 L627.8,829.3 L596.7,848 Z" stroke="#000" stroke-width="1.6" fill="none" />
<line x1="627.8" y1="829.6" x2="660" y2="829.6" stroke="#000" stroke-width="1.2" />
<polygon points="692.70,829.60 653.70,836.10 653.70,823.10" fill="#000"/>
<rect x="665" y="918.7" width="6" height="25.3" fill="#fff"/><rect x="685" y="923.3" width="6" height="18" fill="#fff"/>
<line x1="692.9" y1="836" x2="692.9" y2="940" stroke="#000" stroke-width="1.2" />
<line x1="708.7" y1="836" x2="708.7" y2="940" stroke="#000" stroke-width="1.2" />
<line x1="700.8" y1="823.7" x2="700.8" y2="1025" stroke="#000" stroke-width="1.2" />
<line x1="693.3" y1="829.8" x2="707" y2="829.8" stroke="#000" stroke-width="1.2" />
<line x1="660" y1="932" x2="693" y2="932" stroke="#000" stroke-width="1.2" />
<polygon points="693.00,932.00 677.00,935.50 677.00,928.50" fill="#000"/>
<line x1="708.7" y1="932" x2="774.8" y2="932" stroke="#000" stroke-width="1.2" />
<polygon points="708.70,932.00 724.70,928.50 724.70,935.50" fill="#000"/>
<text x="749.25" y="928.70" font-size="22.5" text-anchor="middle" >24</text>
<line x1="833.5" y1="898" x2="833.5" y2="911.5" stroke="#000" stroke-width="1.2" />
<line x1="833.5" y1="918.5" x2="833.5" y2="1025" stroke="#000" stroke-width="1.2" />
<line x1="815.8" y1="915.5" x2="829.8" y2="915.5" stroke="#000" stroke-width="1.2" />
<line x1="836.8" y1="915.5" x2="850" y2="915.5" stroke="#000" stroke-width="1.2" />
<circle cx="833.3" cy="915" r="1.5" stroke="#000" stroke-width="0" fill="#000" />
<line x1="700.7" y1="1018.5" x2="741.4" y2="1018.5" stroke="#000" stroke-width="1.2" />
<polygon points="700.70,1018.50 716.70,1015.00 716.70,1022.00" fill="#000"/>
<line x1="792.3" y1="1018.5" x2="833.3" y2="1018.5" stroke="#000" stroke-width="1.2" />
<polygon points="833.30,1018.50 817.30,1022.00 817.30,1015.00" fill="#000"/>
<text x="766.00" y="1026.20" font-size="22.5" text-anchor="middle" >195</text>
<path d="M1051.7,729.4 L1035.3,756 L1053.6,751.5 L1043,768" stroke="#000" stroke-width="3.5" fill="none" stroke-linejoin="round"/>
<polygon points="1033.5,784.5 1035.5,762 1052,769" fill="#000"/>
<path d="M1039.9,742.3 L987.6,758.8 L944,804" stroke="#000" stroke-width="1.2" fill="none" />
<polygon points="919.70,821.20 943.77,793.65 951.89,803.81" fill="#000"/>
<path d="M1023.4,841.3 L1007.8,868.9 L1026,862.5 L1016,879" stroke="#000" stroke-width="3.5" fill="none" stroke-linejoin="round"/>
<polygon points="1006,895.4 1008,873 1024,880" fill="#000"/>
<line x1="1007.8" y1="857" x2="965" y2="880" stroke="#000" stroke-width="1.2" />
<polygon points="943.60,890.90 972.51,868.49 978.52,880.01" fill="#000"/>
<circle cx="923.5" cy="900.9" r="17.7" stroke="#000" stroke-width="3.6" fill="none" />
<circle cx="923.5" cy="900.9" r="12.6" stroke="#000" stroke-width="1.4" fill="none" />
<rect x="908.5" y="893.8" width="6.4" height="7.5" rx="0" stroke="#000" stroke-width="1.6" fill="#fff" />
<rect x="932.1" y="901.6" width="6.4" height="7.2" rx="0" stroke="#000" stroke-width="1.6" fill="#fff" />
<line x1="919" y1="884.5" x2="928" y2="884.5" stroke="#000" stroke-width="1.6" />
<line x1="919" y1="917.3" x2="928" y2="917.3" stroke="#000" stroke-width="1.6" />
</svg></body></html>
